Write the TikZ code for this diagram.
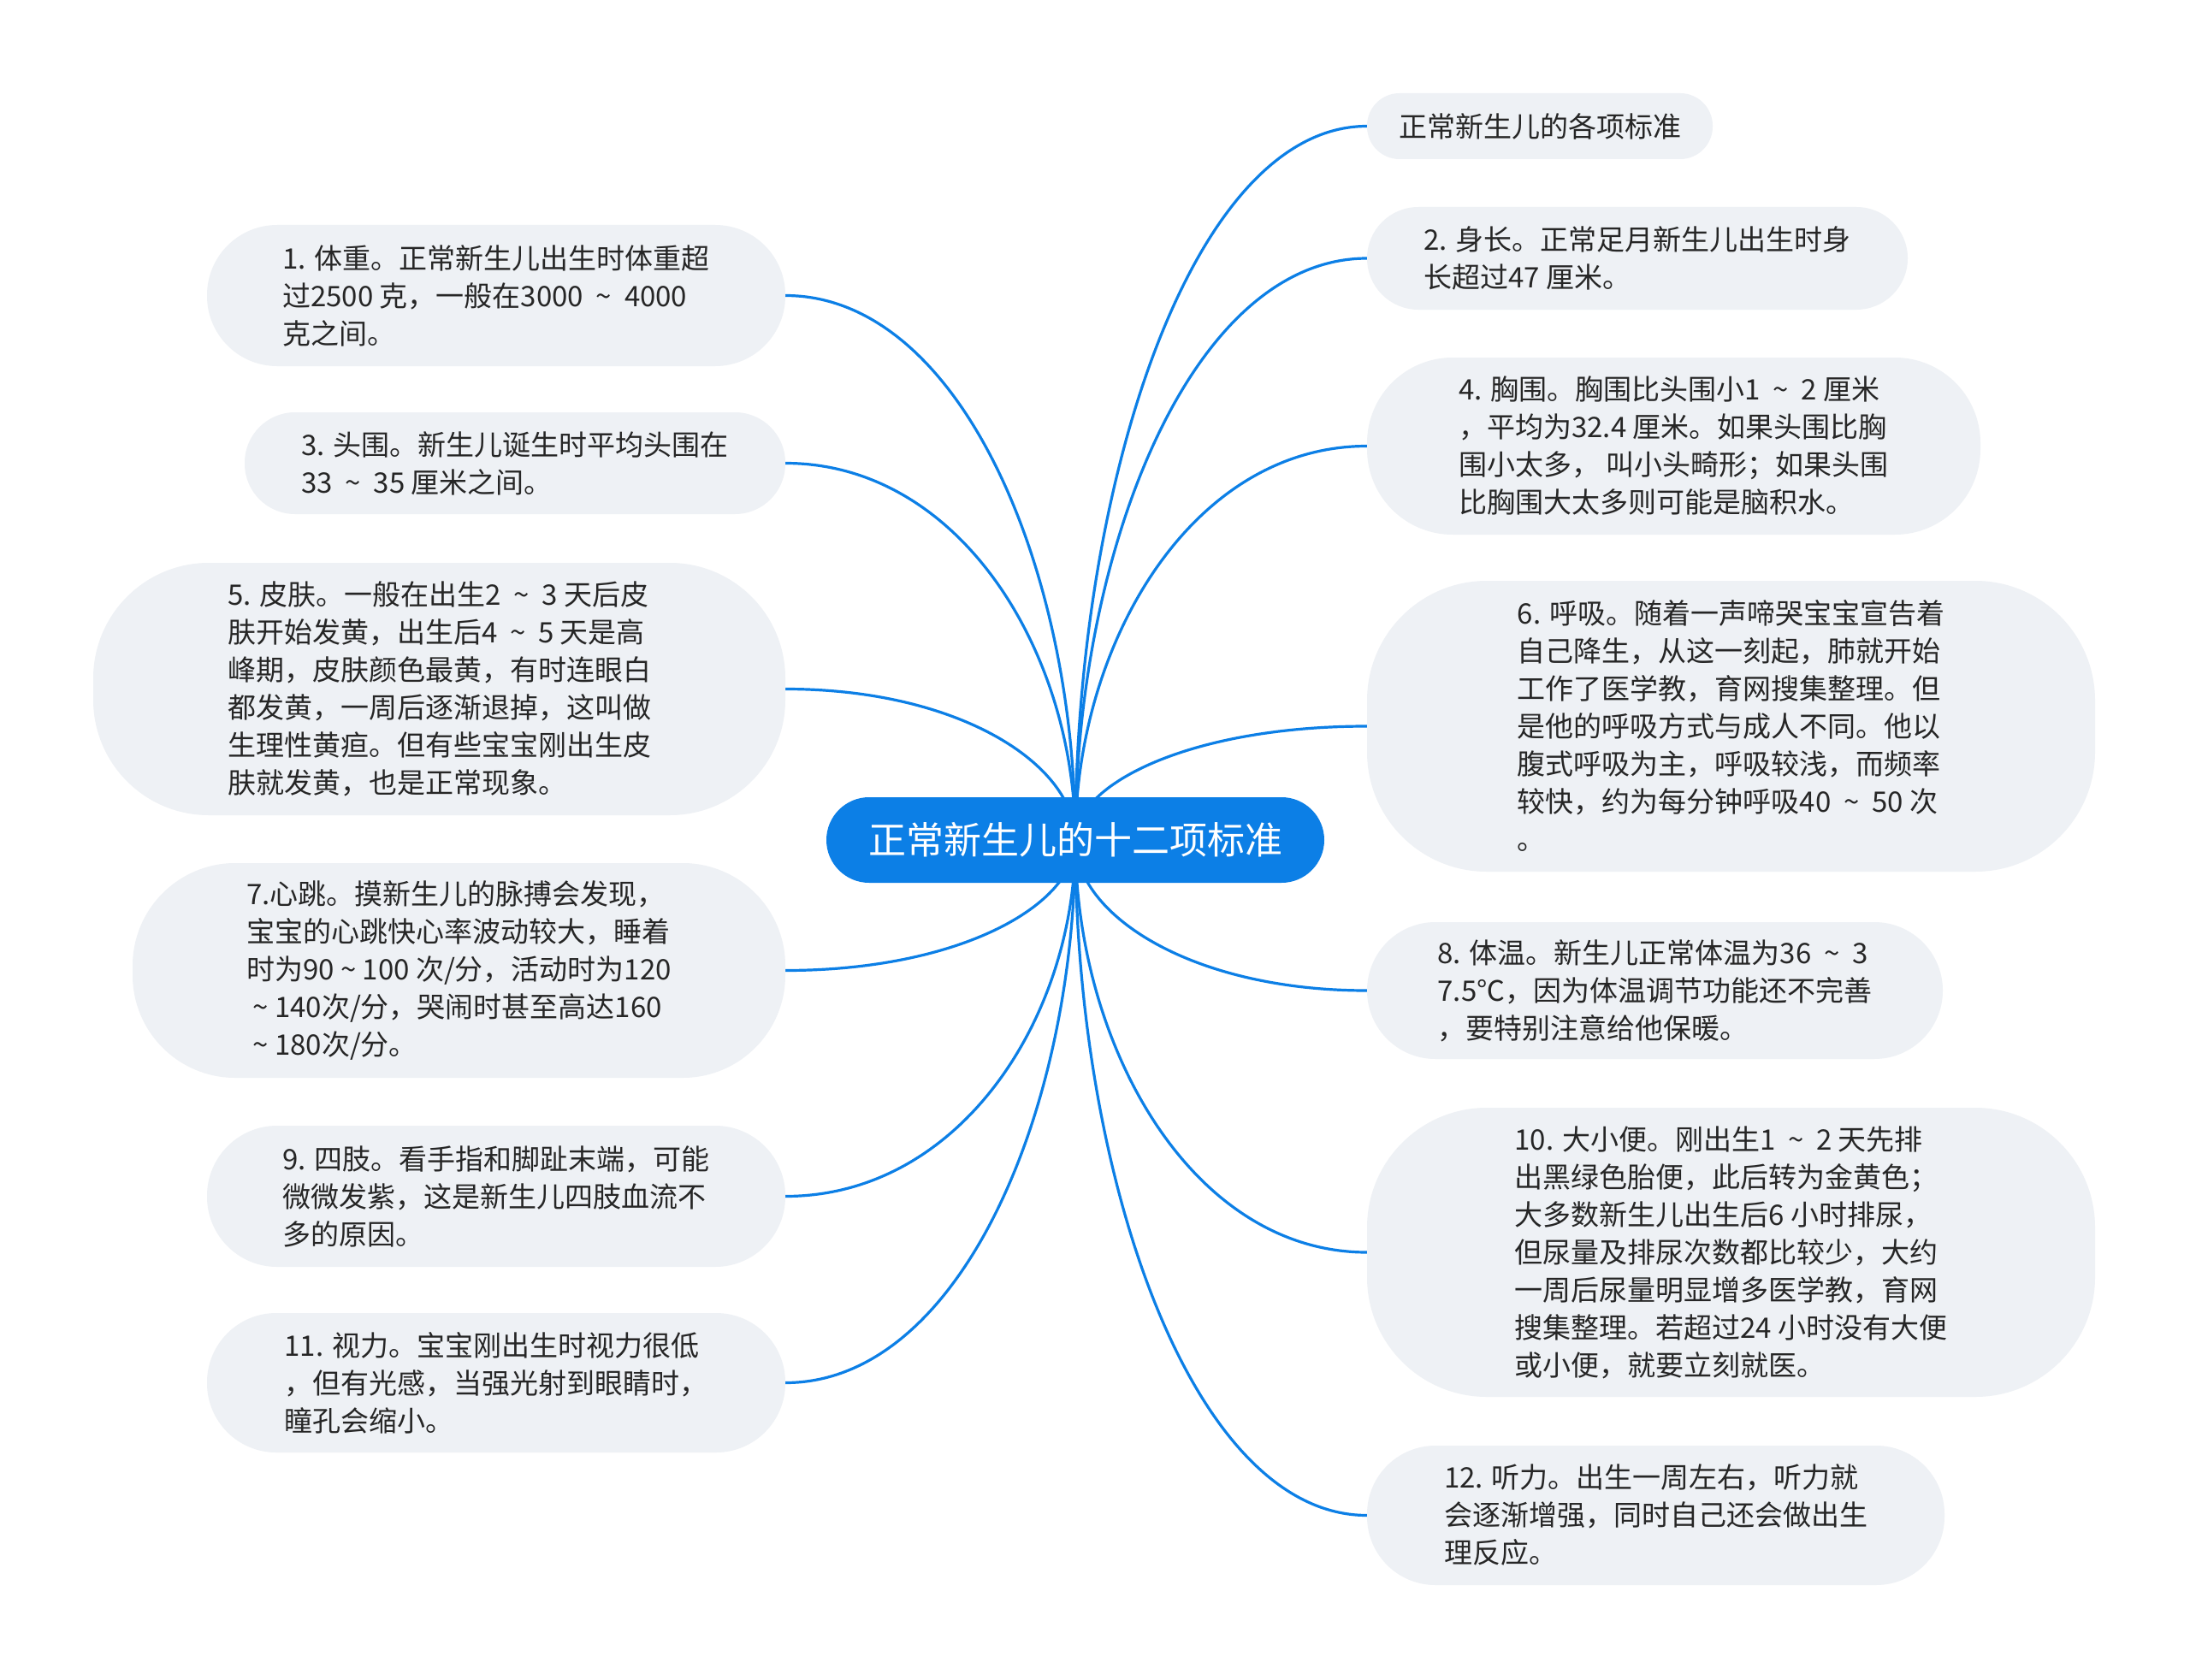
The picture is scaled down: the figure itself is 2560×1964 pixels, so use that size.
\documentclass[tikz,border=0pt]{standalone}
\usepackage{fontspec}
\setmainfont{Noto Sans CJK SC}
\usetikzlibrary{calc,backgrounds}
\definecolor{mainblue}{HTML}{0C7FE6}
\definecolor{leaffill}{HTML}{EEF1F5}
\definecolor{leaftext}{HTML}{262626}
\newcommand\wav{\makebox[1em]{\textasciitilde}}
\tikzset{
  rootbox/.style={rectangle, rounded corners=50pt, fill=mainblue, text=white,
    minimum width=582pt, minimum height=100pt, inner sep=0pt,
    font=\fontsize{44}{52}\selectfont},
  leafbox/.style={rectangle, fill=leaffill, text=leaftext, inner sep=0pt,
    align=left, font=\fontsize{33}{44}\selectfont},
  connline/.style={draw=mainblue, line width=3.2pt},
}
\newcommand\myconn[2]{%
  \draw[connline] let \p1=(#1), \p2=(#2) in
    (\p1) .. controls (\x1, {\y1+0.5*(\y2-\y1)}) and ({\x2-0.6*(\x2-\x1)}, \y2) .. (\p2);}
\begin{document}
\begin{tikzpicture}[x=1pt,y=-1pt]
\useasboundingbox (0,0) rectangle (2560,1964);

\node[rootbox] (root) at (1257,982) {正常新生儿的十二项标准};

% right side
\node[leafbox, rounded corners=38pt, minimum width=404pt, minimum height=77pt] (r0) at (1800,147.5)
  {正常新生儿的各项标准};
\node[leafbox, rounded corners=60pt, minimum width=632pt, minimum height=120pt] (r2) at (1914,302)
  {2. 身长。正常足月新生儿出生时身\\长超过47 厘米。};
\node[leafbox, rounded corners=100pt, minimum width=717pt, minimum height=207pt] (r4) at (1956.5,521.5)
  {4. 胸围。胸围比头围小1 \wav{} 2 厘米\\，平均为32.4 厘米。如果头围比胸\\围小太多， 叫小头畸形；如果头围\\比胸围大太多则可能是脑积水。};
\node[leafbox, rounded corners=140pt, minimum width=851pt, minimum height=340pt] (r6) at (2023.5,849)
  {6. 呼吸。随着一声啼哭宝宝宣告着\\自己降生，从这一刻起，肺就开始\\工作了医学教，育网搜集整理。但\\是他的呼吸方式与成人不同。他以\\腹式呼吸为主，呼吸较浅，而频率\\较快，约为每分钟呼吸40 \wav{} 50 次\\。};
\node[leafbox, rounded corners=80pt, minimum width=673pt, minimum height=160pt] (r8) at (1934.5,1158)
  {8. 体温。新生儿正常体温为36 \wav{} 3\\7.5℃，因为体温调节功能还不完善\\，要特别注意给他保暖。};
\node[leafbox, rounded corners=140pt, minimum width=851pt, minimum height=338pt] (r10) at (2023.5,1464)
  {10. 大小便。刚出生1 \wav{} 2 天先排\\出黑绿色胎便，此后转为金黄色；\\大多数新生儿出生后6 小时排尿，\\但尿量及排尿次数都比较少，大约\\一周后尿量明显增多医学教，育网\\搜集整理。若超过24 小时没有大便\\或小便，就要立刻就医。};
\node[leafbox, rounded corners=80pt, minimum width=675pt, minimum height=163pt] (r12) at (1935.5,1771.5)
  {12. 听力。出生一周左右，听力就\\会逐渐增强，同时自己还会做出生\\理反应。};

% left side
\node[leafbox, rounded corners=82pt, minimum width=676pt, minimum height=165pt] (l1) at (580,345.5)
  {1. 体重。正常新生儿出生时体重超\\过2500 克，一般在3000 \wav{} 4000\\克之间。};
\node[leafbox, rounded corners=59pt, minimum width=632pt, minimum height=119pt] (l3) at (602,541.5)
  {3. 头围。新生儿诞生时平均头围在\\33 \wav{} 35 厘米之间。};
\node[leafbox, rounded corners=135pt, minimum width=809pt, minimum height=295pt] (l5) at (513.5,805.5)
  {5. 皮肤。一般在出生2 \wav{} 3 天后皮\\肤开始发黄，出生后4 \wav{} 5 天是高\\峰期，皮肤颜色最黄，有时连眼白\\都发黄，一周后逐渐退掉，这叫做\\生理性黄疸。但有些宝宝刚出生皮\\肤就发黄，也是正常现象。};
\node[leafbox, rounded corners=120pt, minimum width=763pt, minimum height=251pt] (l7) at (536.5,1134.5)
  {7.心跳。摸新生儿的脉搏会发现，\\宝宝的心跳快心率波动较大，睡着\\时为90\wav{}100 次/分，活动时为120\\\wav{}140次/分，哭闹时甚至高达160\\\wav{}180次/分。};
\node[leafbox, rounded corners=82pt, minimum width=676pt, minimum height=165pt] (l9) at (580,1398.5)
  {9. 四肢。看手指和脚趾末端，可能\\微微发紫，这是新生儿四肢血流不\\多的原因。};
\node[leafbox, rounded corners=81pt, minimum width=676pt, minimum height=163pt] (l11) at (580,1616.5)
  {11. 视力。宝宝刚出生时视力很低\\，但有光感，当强光射到眼睛时，\\瞳孔会缩小。};

\begin{pgfonlayer}{background}
\fill[white] (0,0) rectangle (2560,1964);
\myconn{root.center}{r0.west}
\myconn{root.center}{r2.west}
\myconn{root.center}{r4.west}
\myconn{root.center}{r6.west}
\myconn{root.center}{r8.west}
\myconn{root.center}{r10.west}
\myconn{root.center}{r12.west}
\myconn{root.center}{l1.east}
\myconn{root.center}{l3.east}
\myconn{root.center}{l5.east}
\myconn{root.center}{l7.east}
\myconn{root.center}{l9.east}
\myconn{root.center}{l11.east}
\end{pgfonlayer}
\end{tikzpicture}
\end{document}
